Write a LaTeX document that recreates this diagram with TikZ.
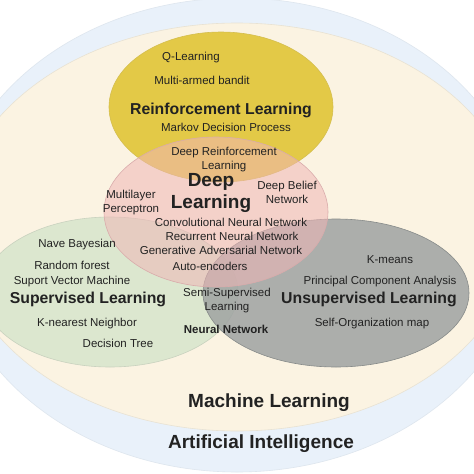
\documentclass[tikz,border=0pt]{standalone}
\usepackage{fontspec}
\setmainfont{Liberation Sans}
\definecolor{aiblue}{HTML}{E9F1FA}
\definecolor{mlcream}{HTML}{FBF3E2}
\definecolor{rlyellow}{HTML}{E3C947}
\definecolor{dlpink}{HTML}{F0B6B6}
\definecolor{slgreen}{HTML}{DCE7CF}
\definecolor{ulgray}{HTML}{9FA3A2}
\definecolor{ink}{HTML}{222222}

\begin{document}
\begin{tikzpicture}[x=1pt,y=-1pt,
  item/.style={font=\fontsize{11.5}{14}\selectfont,text=ink,align=center,inner sep=0pt},
  head/.style={font=\fontsize{15.8}{18}\selectfont\bfseries,text=ink,inner sep=0pt},
  title/.style={font=\fontsize{19}{22}\selectfont\bfseries,text=ink,align=center,inner sep=0pt},
  rim/.style={line width=0.6pt}]
\useasboundingbox (0,0) rectangle (474,474);
\clip (0,0) rectangle (474,474);
\fill[white] (0,0) rectangle (474,474);
% outer fields
\draw[rim,fill=aiblue,draw=aiblue!90!gray] (237,235) ellipse [x radius=290,y radius=237];
\draw[rim,fill=mlcream,draw=mlcream!85!gray] (237,227) ellipse [x radius=282,y radius=204];
% learning families
\draw[rim,fill=rlyellow,draw=rlyellow!85!gray] (221,107) ellipse [x radius=112,y radius=75];
\draw[rim,fill=slgreen,draw=slgreen!80!gray] (110,292) ellipse [x radius=128,y radius=75];
\draw[rim,fill=ulgray,fill opacity=0.85,draw=ulgray!85!black] (336,293) ellipse [x radius=133,y radius=74];
\draw[rim,fill=dlpink,fill opacity=0.55,draw=dlpink!80!gray] (216,212) ellipse [x radius=112,y radius=75];
% reinforcement
\node[item] (qlearn) at (191,58) {Q-Learning};
\node[item] (bandit) at (202,80) {Multi-armed bandit};
\node[head] (rl) at (221,110) {Reinforcement Learning};
\node[item] (mdp) at (226,127) {Markov Decision Process};
% deep
\node[item] (drl) at (224,160) {Deep Reinforcement\\Learning};
\node[title] (dl) at (211,193) {Deep\\Learning};
\node[item] (mlp) at (131,203) {Multilayer\\Perceptron};
\node[item] (dbn) at (287,192) {Deep Belief\\Network};
\node[item] (cnn) at (231,222) {Convolutional Neural Network};
\node[item] (rnn) at (232,236) {Recurrent Neural Network};
\node[item] (gan) at (221,250) {Generative Adversarial Network};
\node[item] (ae) at (210,266) {Auto-encoders};
% supervised
\node[item] (bayes) at (77,245) {Nave Bayesian};
\node[item] (forest) at (72,265) {Random forest};
\node[item] (svm) at (72,282) {Suport Vector Machine};
\node[head] (sl) at (88,299) {Supervised Learning};
\node[item] (knn) at (87,324) {K-nearest Neighbor};
\node[item] (tree) at (118,343) {Decision Tree};
% between
\node[item] (semi) at (227,301) {Semi-Supervised\\Learning};
\node[item,font=\fontsize{11.5}{14}\selectfont\bfseries] (nn) at (226,329) {Neural Network};
% unsupervised
\node[item] (kmeans) at (390,260) {K-means};
\node[item] (pca) at (380,282) {Principal Component Analysis};
\node[head] (ul) at (369,299) {Unsupervised Learning};
\node[item] (som) at (372,324) {Self-Organization map};
% fields
\node[title] (ml) at (269,403) {Machine Learning};
\node[title] (ai) at (261,444) {Artificial Intelligence};
\end{tikzpicture}
\end{document}
